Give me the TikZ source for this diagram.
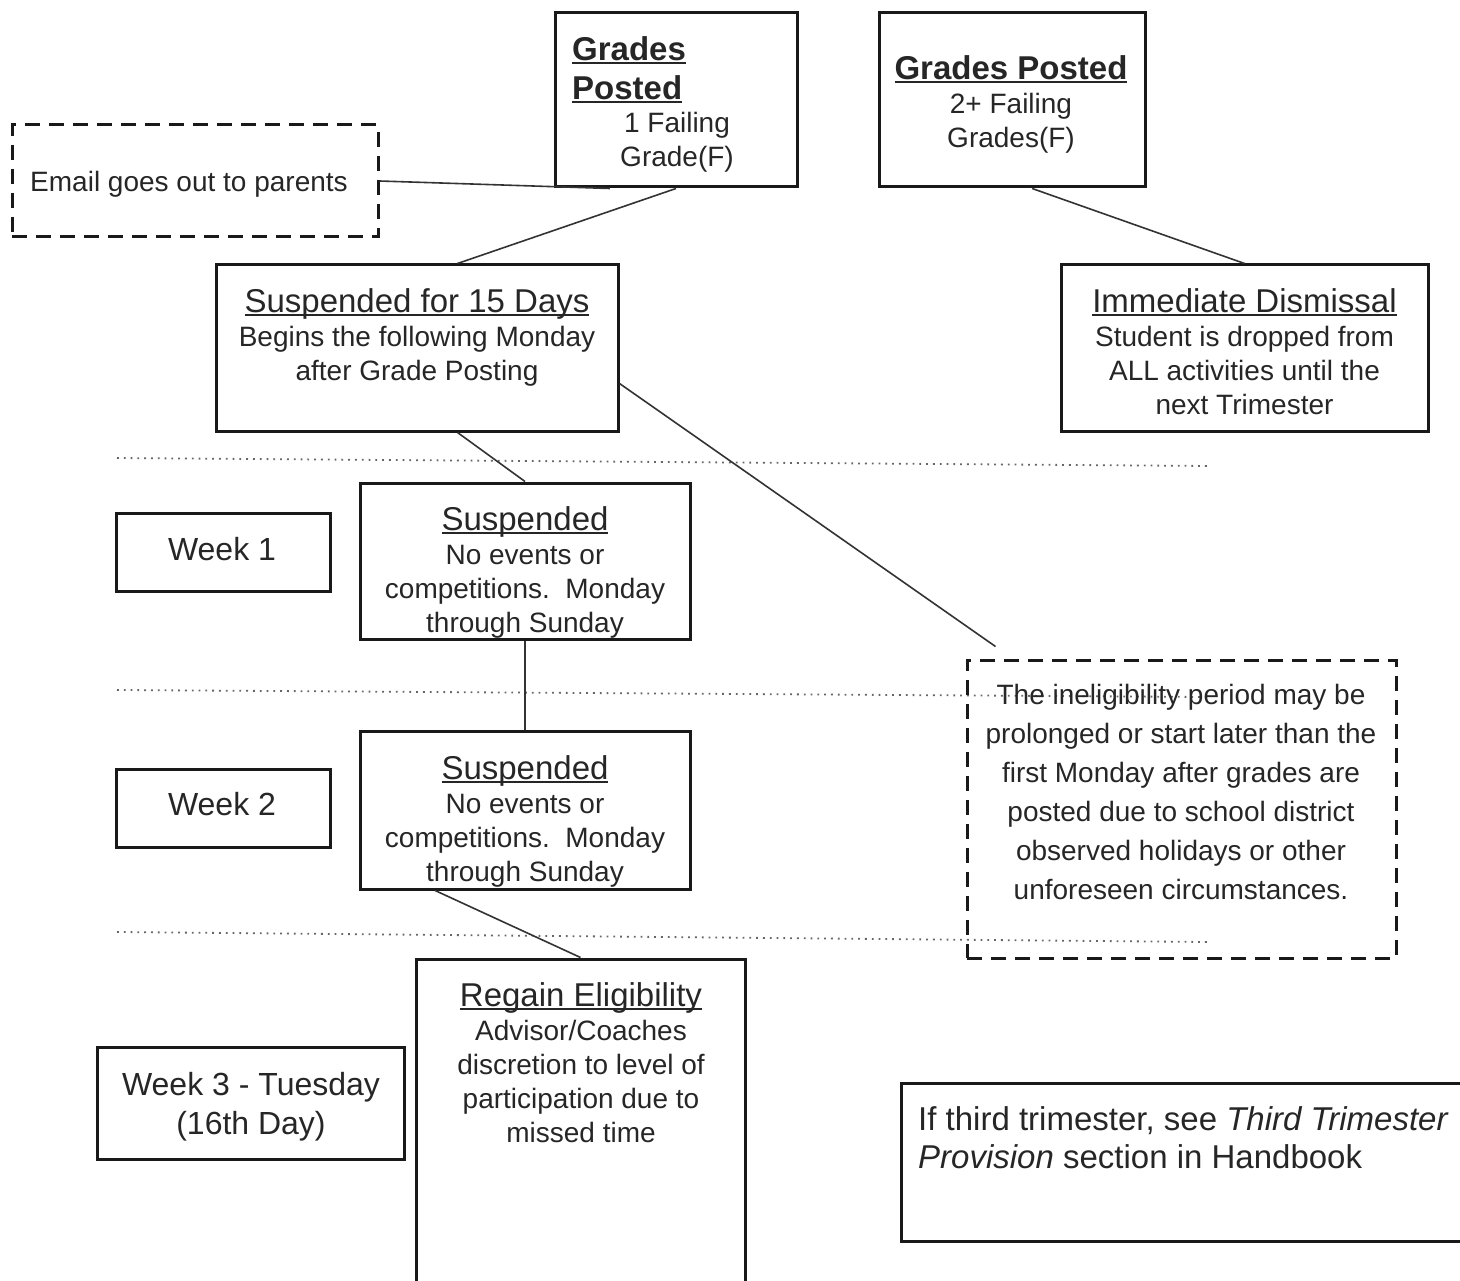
\documentclass[tikz,border=0pt]{standalone}
\usepackage{fontspec}
\setmainfont{Liberation Sans}
\usetikzlibrary{calc}
\newsavebox\ulbox
\newcommand\ulx[1]{\sbox\ulbox{#1}\leavevmode\rlap{\rule[-0.13em]{\wd\ulbox}{0.07em}}\usebox\ulbox}
\begin{document}
\begin{tikzpicture}[x=1pt,y=-1pt,
  box/.style={draw=black!90, line width=3pt, inner sep=0pt, text=black!85, align=center},
  dbox/.style={draw=black!90, line width=3pt, dash pattern=on 15pt off 9pt, inner sep=0pt, text=black!85, align=center},
  txt/.style={inner sep=0pt, align=center, text=black!85, font=\fontsize{28}{34}\selectfont},
  wtxt/.style={inner sep=0pt, align=center, text=black!85, font=\fontsize{32}{39}\selectfont},
  conn/.style={draw=black!80, line width=1.6pt},
  dots/.style={draw=black!60, line width=1.8pt, dash pattern=on 1.8pt off 5pt}
]
\useasboundingbox (0,0) rectangle (1460,1281);
\clip (0,0) rectangle (1460,1281);

% dotted week separators
\coordinate (d1a) at (117,458); \coordinate (d1b) at (1208,466);
\coordinate (d2a) at (117,690); \coordinate (d2b) at (1208,697);
\coordinate (d3a) at (117,932); \coordinate (d3b) at (1208,942);
\draw[dots] (d1a) -- (d1b);
\draw[dots] (d2a) -- (d2b);
\draw[dots] (d3a) -- (d3b);

% boxes
\node[box, minimum width=242pt, minimum height=174pt] (gp1) at (676,100) {};
\node[box, minimum width=266pt, minimum height=174pt] (gp2) at (1012,100) {};
\node[dbox, minimum width=366pt, minimum height=112pt] (email) at (195,181) {};
\node[box, minimum width=402pt, minimum height=166pt] (s15) at (417,348) {};
\node[box, minimum width=367pt, minimum height=166pt] (dis) at (1244.5,348) {};
\node[box, minimum width=214pt, minimum height=78pt] (wk1) at (223,552) {};
\node[box, minimum width=330pt, minimum height=156pt] (su1) at (525,561) {};
\node[box, minimum width=214pt, minimum height=78pt] (wk2) at (223,808) {};
\node[box, minimum width=330pt, minimum height=158pt] (su2) at (525,810) {};
\node[dbox, minimum width=429pt, minimum height=298pt] (inel) at (1181.5,809) {};
\node[box, minimum width=307pt, minimum height=112pt] (wk3) at (250.5,1103) {};
\node[box, minimum width=329pt, minimum height=341pt] (reg) at (580.5,1129.5) {};
\node[box, minimum width=574pt, minimum height=158pt] (thr) at (1188,1162) {};

% texts
\node[txt] (emailt) at (189,184) {Email goes out to parents};
\node[wtxt] (wk1t) at (222,549) {Week 1};
\node[wtxt] (wk2t) at (222,804) {Week 2};
\node[wtxt] (wk3t) at (251,1107) {Week 3 - Tuesday\\(16th Day)};
\node[txt, align=left, anchor=north west, font=\fontsize{33}{39}\selectfont\bfseries] (gp1t) at (572,36) {\ulx{Grades}\\\ulx{Posted}};
\node[txt, anchor=north] (gp1b) at (677,112) {1 Failing\\Grade(F)};
\node[txt, anchor=north] (gp2t) at (1011,55) {{\fontsize{33}{34}\selectfont\bfseries\ulx{Grades Posted}}\\2+ Failing\\Grades(F)};
\node[txt, anchor=north] (s15t) at (417,288) {{\fontsize{33}{34}\selectfont\ulx{Suspended for 15 Days}}\\Begins the following Monday\\after Grade Posting};
\node[txt, anchor=north] (dist) at (1244.5,288) {{\fontsize{33}{34}\selectfont\ulx{Immediate Dismissal}}\\Student is dropped from\\ALL activities until the\\next Trimester};
\node[txt, anchor=north] (su1t) at (525,506) {{\fontsize{33}{34}\selectfont\ulx{Suspended}}\\No events or\\competitions.\ \ Monday\\through Sunday};
\node[txt, anchor=north] (su2t) at (525,755) {{\fontsize{33}{34}\selectfont\ulx{Suspended}}\\No events or\\competitions.\ \ Monday\\through Sunday};
\node[txt, anchor=north, font=\fontsize{28}{39}\selectfont] (inelt) at (1181,684) {The ineligibility period may be\\prolonged or start later than the\\first Monday after grades are\\posted due to school district\\observed holidays or other\\unforeseen circumstances.};
\node[txt, anchor=north] (regt) at (581,982) {{\fontsize{33}{34}\selectfont\ulx{Regain Eligibility}}\\Advisor/Coaches\\discretion to level of\\participation due to\\missed time};
\node[txt, anchor=north west, align=left, font=\fontsize{33}{38}\selectfont] (thrt) at (918,1106) {If third trimester, see \textit{Third Trimester}\\\textit{Provision} section in Handbook};

% connectors
\coordinate (e1) at ($(gp1.south west)!0.23!(gp1.south east)$);
\draw[conn] (email.east) -- (e1);
\draw[conn] (gp1.south) -- ($(s15.north west)!0.6!(s15.north east)$);
\draw[conn] ($(gp2.south west)!0.575!(gp2.south east)$) -- (dis.north);
\draw[conn] ($(s15.south west)!0.6!(s15.south east)$) -- (su1.north);
\coordinate (ie) at ($(inel.north west)+(30,-12)$);
\draw[conn] ($(s15.north east)!0.71!(s15.south east)$) -- (ie);
\draw[conn] (su1.south) -- (su2.north);
\draw[conn] ($(su2.south west)!0.23!(su2.south east)$) -- (reg.north);
\end{tikzpicture}
\end{document}
